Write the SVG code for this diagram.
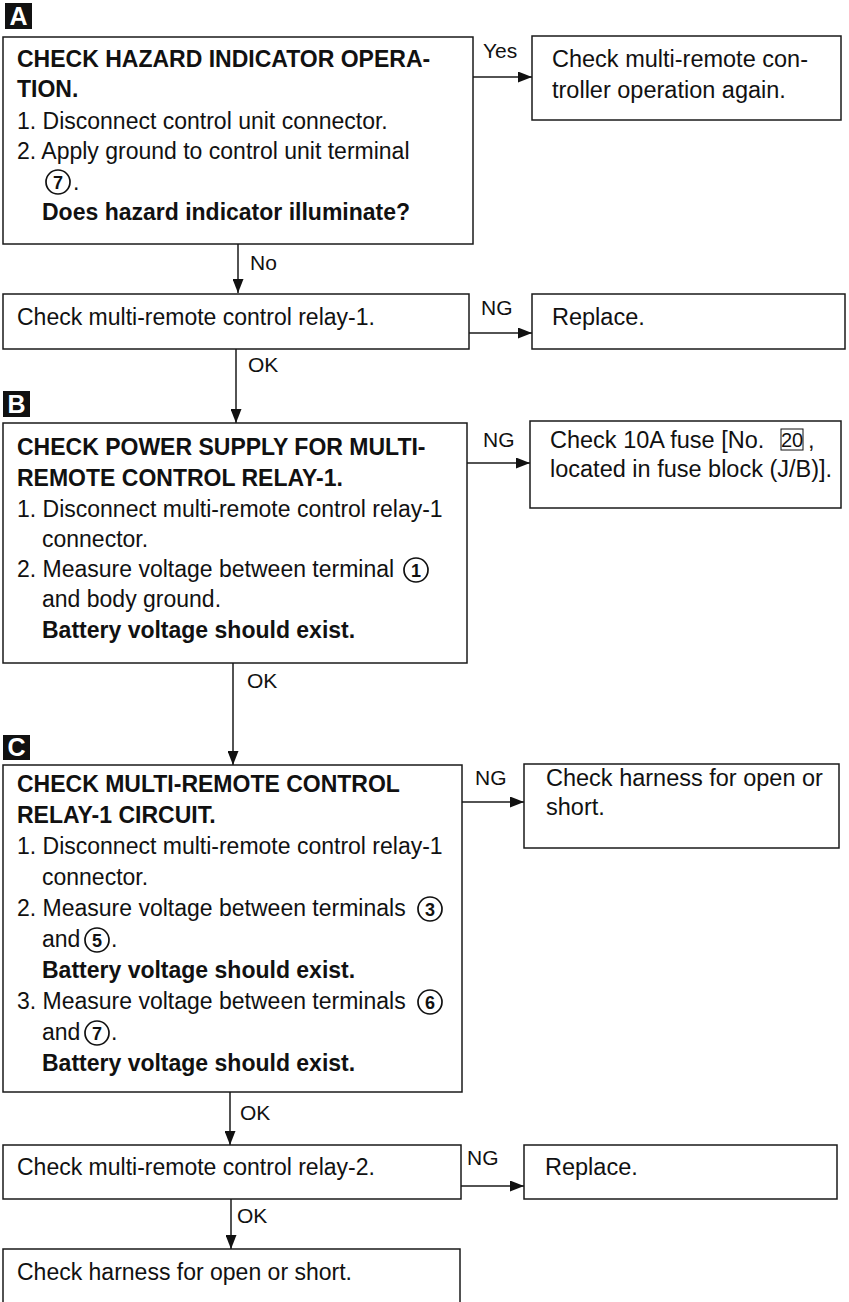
<svg xmlns="http://www.w3.org/2000/svg" width="849" height="1302" viewBox="0 0 849 1302">
<style>
.box{fill:#fff;stroke:#1a1a1a;stroke-width:1.5}
.t{font-family:"Liberation Sans",Arial,sans-serif;font-size:23px;fill:#111}
.r{font-size:23.5px}
.b{font-weight:bold}
.lbl{font-family:"Liberation Sans",Arial,sans-serif;font-size:21px;fill:#111}
.conn{stroke:#1a1a1a;stroke-width:1.5;fill:none;marker-end:url(#ah)}
.tag{fill:#111}
.tagt{font-family:"Liberation Sans",Arial,sans-serif;font-size:25px;font-weight:bold;fill:#fff;text-anchor:middle}
.cir{fill:none;stroke:#111;stroke-width:1.7}
.cd{font-family:"Liberation Sans",Arial,sans-serif;font-size:18px;font-weight:bold;fill:#111;text-anchor:middle}
</style>
<defs>
<marker id="ah" markerUnits="userSpaceOnUse" markerWidth="14" markerHeight="11" refX="14" refY="5.5" orient="auto">
<path d="M0,0 L14,5.5 L0,11 z" fill="#111"/>
</marker>
</defs>
<rect width="849" height="1302" fill="#fff"/>

<g id="connectors">
<path class="conn" d="M473,77 H532"/>
<path class="conn" d="M238,244 V293"/>
<path class="conn" d="M469,333 H532"/>
<path class="conn" d="M236,349 V423"/>
<path class="conn" d="M467,463 H530"/>
<path class="conn" d="M233,663 V765"/>
<path class="conn" d="M462,802 H524"/>
<path class="conn" d="M230,1092 V1145"/>
<path class="conn" d="M461,1186 H524"/>
<path class="conn" d="M231,1199 V1249"/>
<text class="lbl" x="483" y="58">Yes</text>
<text class="lbl" x="250" y="270">No</text>
<text class="lbl" x="481" y="315">NG</text>
<text class="lbl" x="248" y="372">OK</text>
<text class="lbl" x="483" y="447">NG</text>
<text class="lbl" x="247" y="688">OK</text>
<text class="lbl" x="475" y="785">NG</text>
<text class="lbl" x="240" y="1120">OK</text>
<text class="lbl" x="467" y="1165">NG</text>
<text class="lbl" x="237" y="1223">OK</text>
</g>

<g id="tagA"><rect class="tag" x="5" y="3" width="27" height="26"/><text class="tagt" x="18.5" y="25">A</text></g>
<g id="tagB"><rect class="tag" x="3" y="391" width="27" height="26"/><text class="tagt" x="16.5" y="413">B</text></g>
<g id="tagC"><rect class="tag" x="3" y="735" width="27" height="25"/><text class="tagt" x="16.5" y="756">C</text></g>

<g id="nodeA">
<rect class="box" x="3" y="37" width="470" height="207"/>
<text class="t b" x="17" y="67">CHECK HAZARD INDICATOR OPERA-</text>
<text class="t b" x="17" y="97">TION.</text>
<text class="t" x="17" y="129">1. Disconnect control unit connector.</text>
<text class="t" x="17" y="159">2. Apply ground to control unit terminal</text>
<circle class="cir" cx="58" cy="182" r="12"/><text class="cd" x="58" y="188.5">7</text>
<text class="t" x="73" y="190">.</text>
<text class="t b" x="42" y="220">Does hazard indicator illuminate?</text>
</g>

<g id="nodeYes">
<rect class="box" x="532" y="36" width="309" height="84"/>
<text class="t r" x="552" y="67">Check multi-remote con-</text>
<text class="t r" x="552" y="98">troller operation again.</text>
</g>

<g id="nodeRelay1">
<rect class="box" x="3" y="294" width="466" height="55"/>
<text class="t" x="17" y="325">Check multi-remote control relay-1.</text>
</g>

<g id="nodeReplace1">
<rect class="box" x="532" y="294" width="313" height="55"/>
<text class="t r" x="552" y="325">Replace.</text>
</g>

<g id="nodeB">
<rect class="box" x="3" y="423" width="464" height="240"/>
<text class="t b" x="17" y="455">CHECK POWER SUPPLY FOR MULTI-</text>
<text class="t b" x="17" y="486">REMOTE CONTROL RELAY-1.</text>
<text class="t" x="17" y="517">1. Disconnect multi-remote control relay-1</text>
<text class="t" x="42" y="547">connector.</text>
<text class="t" x="17" y="577">2. Measure voltage between terminal</text>
<circle class="cir" cx="416" cy="570" r="12"/><text class="cd" x="416" y="576.5">1</text>
<text class="t" x="42" y="607">and body ground.</text>
<text class="t b" x="42" y="638">Battery voltage should exist.</text>
</g>

<g id="nodeFuse">
<rect class="box" x="530" y="421" width="311" height="87"/>
<text class="t r" x="550" y="448">Check 10A fuse [No.</text>
<rect x="781" y="429" width="22" height="21" fill="none" stroke="#111" stroke-width="1"/>
<text class="t" x="792" y="447" style="font-size:20px;text-anchor:middle">20</text>
<text class="t r" x="808" y="448">,</text>
<text class="t r" x="550" y="477">located in fuse block (J/B)].</text>
</g>

<g id="nodeC">
<rect class="box" x="3" y="765" width="459" height="327"/>
<text class="t b" x="17" y="792">CHECK MULTI-REMOTE CONTROL</text>
<text class="t b" x="17" y="823">RELAY-1 CIRCUIT.</text>
<text class="t" x="17" y="854">1. Disconnect multi-remote control relay-1</text>
<text class="t" x="42" y="885">connector.</text>
<text class="t" x="17" y="916">2. Measure voltage between terminals</text>
<circle class="cir" cx="430" cy="909" r="12"/><text class="cd" x="430" y="915.5">3</text>
<text class="t" x="42" y="947">and</text>
<circle class="cir" cx="97" cy="940" r="12"/><text class="cd" x="97" y="946.5">5</text>
<text class="t" x="111" y="947">.</text>
<text class="t b" x="42" y="978">Battery voltage should exist.</text>
<text class="t" x="17" y="1009">3. Measure voltage between terminals</text>
<circle class="cir" cx="430" cy="1002" r="12"/><text class="cd" x="430" y="1008.5">6</text>
<text class="t" x="42" y="1040">and</text>
<circle class="cir" cx="97" cy="1033" r="12"/><text class="cd" x="97" y="1039.5">7</text>
<text class="t" x="111" y="1040">.</text>
<text class="t b" x="42" y="1071">Battery voltage should exist.</text>
</g>

<g id="nodeHarness1">
<rect class="box" x="524" y="764" width="315" height="84"/>
<text class="t r" x="546" y="786">Check harness for open or</text>
<text class="t r" x="546" y="815">short.</text>
</g>

<g id="nodeRelay2">
<rect class="box" x="3" y="1145" width="458" height="54"/>
<text class="t" x="17" y="1175">Check multi-remote control relay-2.</text>
</g>

<g id="nodeReplace2">
<rect class="box" x="524" y="1145" width="313" height="54"/>
<text class="t r" x="545" y="1175">Replace.</text>
</g>

<g id="nodeHarness2">
<rect class="box" x="3" y="1249" width="457" height="70"/>
<text class="t" x="17" y="1280">Check harness for open or short.</text>
</g>
</svg>
